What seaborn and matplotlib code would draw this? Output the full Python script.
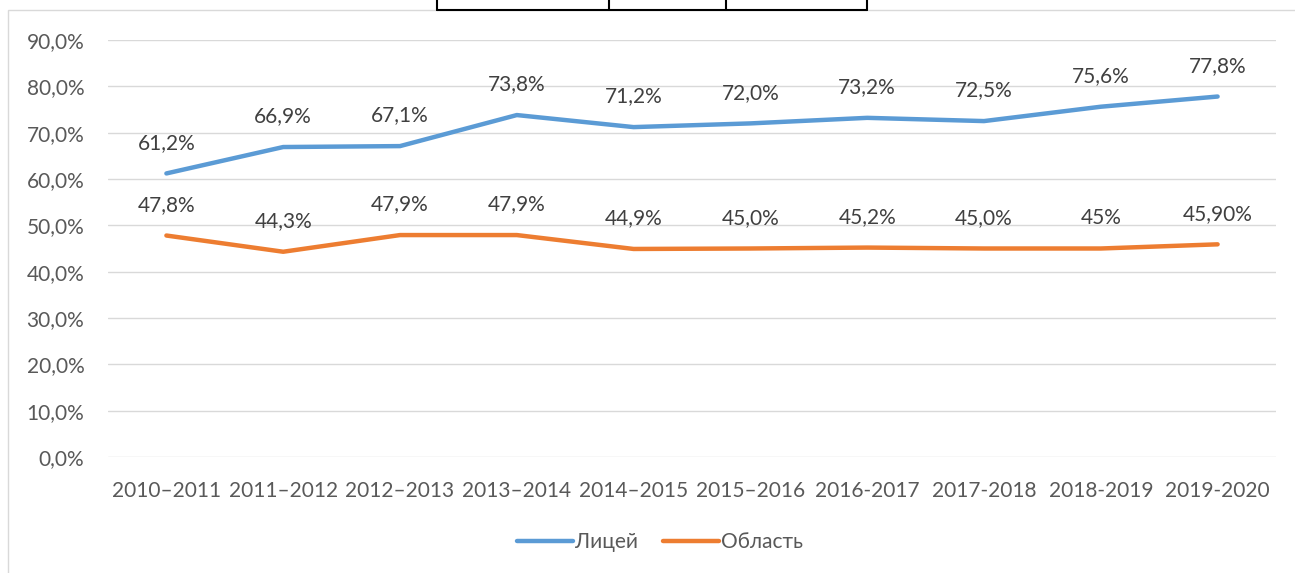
import matplotlib
matplotlib.use("Agg")
import matplotlib.pyplot as plt
import seaborn as sns
import pandas as pd
from matplotlib.lines import Line2D
from matplotlib.patches import Rectangle
from matplotlib.ticker import FixedLocator

years = ["2010–2011", "2011–2012", "2012–2013", "2013–2014", "2014–2015",
         "2015–2016", "2016-2017", "2017-2018", "2018-2019", "2019-2020"]
lyceum = [61.2, 66.9, 67.1, 73.8, 71.2, 72.0, 73.2, 72.5, 75.6, 77.8]
region = [47.8, 44.3, 47.9, 47.9, 44.9, 45.0, 45.2, 45.0, 45.0, 45.9]
lyceum_labels = ["61,2%", "66,9%", "67,1%", "73,8%", "71,2%", "72,0%", "73,2%", "72,5%", "75,6%", "77,8%"]
region_labels = ["47,8%", "44,3%", "47,9%", "47,9%", "44,9%", "45,0%", "45,2%", "45,0%", "45%", "45,90%"]
series_names = ["Лицей", "Область"]
y_ticks = [0, 10, 20, 30, 40, 50, 60, 70, 80, 90]
colors = ["#5B9BD5", "#ED7D31"]

sns.set_theme(style="white")
plt.rcParams['font.family'] = ['Lato', 'DejaVu Sans']

FS = 15
W, H = 1295, 573
fig = plt.figure(figsize=(W / 100, H / 100), dpi=100)
ax = fig.add_axes([108 / W, 1 - 457 / H, (1276 - 108) / W, (457 - 40) / H])

df = pd.DataFrame({
    "year": years * 2,
    "x": list(range(len(years))) * 2,
    "value": lyceum + region,
    "series": [series_names[0]] * len(years) + [series_names[1]] * len(years),
})
sns.lineplot(data=df, x="x", y="value", hue="series", palette=colors,
             linewidth=3.2, ax=ax, legend=False, sort=False)
for ln in ax.get_lines():
    ln.set_solid_capstyle("round")
    ln.set_solid_joinstyle("round")

for vals, labs in ((lyceum, lyceum_labels), (region, region_labels)):
    for i, (v, t) in enumerate(zip(vals, labs)):
        ax.annotate(t, (i, v), xytext=(0, 22), textcoords="offset points",
                    ha="center", va="center", fontsize=FS, color="#404040")

ax.set_xlim(-0.5, len(years) - 0.5)
ax.set_ylim(0, 90)
ax.yaxis.set_major_locator(FixedLocator(y_ticks))
ax.set_yticklabels([f"{t},0%" for t in y_ticks])
ax.set_xticks(range(len(years)))
ax.set_xticklabels(years)
ax.tick_params(axis="both", colors="#595959", labelsize=FS, length=0)
ax.tick_params(axis="y", pad=17)
ax.tick_params(axis="x", pad=17)
ax.grid(axis="y", color="#D9D9D9", linewidth=1)
ax.set_axisbelow(True)
for s in ax.spines.values():
    s.set_visible(False)
ax.set_xlabel("")
ax.set_ylabel("")

handles = [Line2D([0], [0], color=c, linewidth=3.2, solid_capstyle="round") for c in colors]
fig.legend(handles, series_names, loc="center", bbox_to_anchor=(660 / W, 1 - 542 / H),
           ncol=2, frameon=False, fontsize=FS, handlelength=2.7, handletextpad=0.1,
           columnspacing=1.2, labelcolor="#595959")

# chart frame
fig.add_artist(Rectangle((8 / W, -0.1), 1.2, 1 - 10 / H + 0.1, transform=fig.transFigure,
                         fill=False, edgecolor="#D9D9D9", linewidth=1))
# fragment of the table above the chart
for x in (437, 609, 726, 867):
    fig.add_artist(Line2D([x / W, x / W], [1 - 10 / H, 1.0], transform=fig.transFigure,
                          color="black", linewidth=1.5))
fig.add_artist(Line2D([437 / W, 867 / W], [1 - 10 / H, 1 - 10 / H], transform=fig.transFigure,
                      color="black", linewidth=1.5))

fig.savefig("out.png", dpi=100)
